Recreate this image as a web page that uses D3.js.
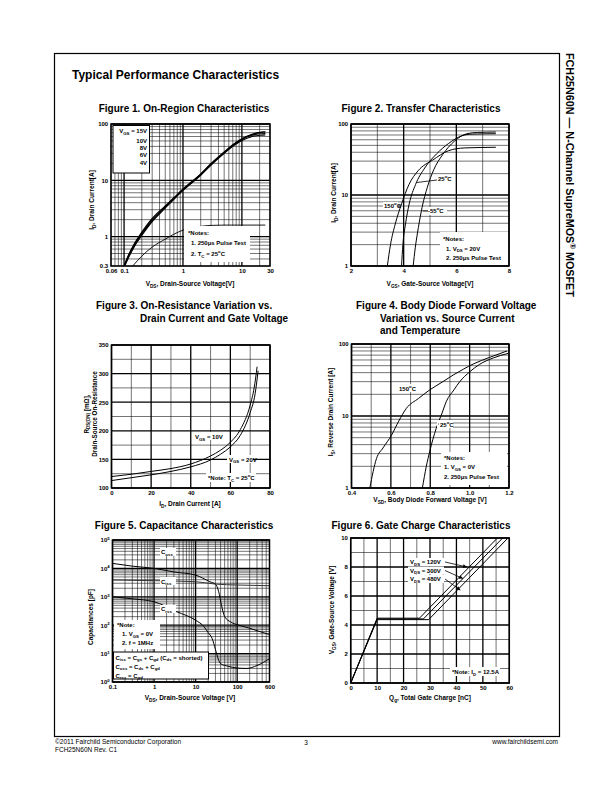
<!DOCTYPE html>
<html><head><meta charset="utf-8">
<script src="https://cdn.jsdelivr.net/npm/d3@7"></script>
<style>body{margin:0;background:#fff}svg{display:block}</style>
</head><body><svg id="c" width="612" height="792"></svg>
<script>
// ---------------- DATA ----------------
// Figure 1: On-Region Characteristics
const fig1Vds = [0.1,0.12,0.15,0.2,0.3,0.5,0.7,1,2,3,5,7,10,15,20,25];
const fig1Id15V = [0.3,0.48,0.75,1.2,2.1,3.5,4.9,7.0,13,20,32,43,55,66,71,73];
const fig1Id10V = [0.3,0.47,0.73,1.15,2.0,3.4,4.8,6.8,12.8,19.5,31,42,54,65,70,72];
const fig1Id8V  = [0.29,0.45,0.7,1.1,1.9,3.3,4.7,6.7,12.5,19,30.5,41,53,63,67,68];
const fig1Id6V  = [0.28,0.43,0.67,1.05,1.85,3.2,4.6,6.6,12.3,18.7,30,40,51,60,63,64];
const fig1Vds4V = [0.14,0.2,0.3,0.5,0.7,1,1.5,2,3,5,10,25];
const fig1Id4V  = [0.3,0.45,0.65,0.9,1.1,1.3,1.45,1.52,1.58,1.6,1.6,1.6];
const fig1XTicks = [0.06,0.1,1,10,30];
const fig1XLabels = ["0.06","0.1","1","10","30"];
const fig1YTicks = [0.3,1,10,100];
const fig1YLabels = ["0.3","1","10","100"];
const fig1Legend = ["V_{GS} = 15V","10V","8V","6V","4V"];
const fig1Notes = ["*Notes:","1. 250\u03bcs Pulse Test","2. T_{C} = 25^{o}C"];

// Figure 2: Transfer Characteristics
const fig2Vgs150 = [3.38,3.5,3.68,3.92,4.2,4.55,5.1,5.7,6.3,7.5];
const fig2Id150  = [1,2,3.9,7.5,14,22,31,42,46,47];
const fig2Vgs25  = [3.92,3.97,4.07,4.21,4.45,4.8,5.25,5.7,6.2,6.6,7.5];
const fig2Id25   = [1,2,3.9,7.5,14,24,38,53,68,72,73];
const fig2VgsM55 = [4.36,4.44,4.56,4.7,4.9,5.14,5.48,5.92,6.4,6.8,7.5];
const fig2IdM55  = [1,1.8,3.5,6.7,12.9,22.6,37,57,73,76,77];
const fig2XTicks = [2,4,6,8];
const fig2XLabels = ["2","4","6","8"];
const fig2YTicks = [1,10,100];
const fig2YLabels = ["1","10","100"];
const fig2Notes = ["*Notes:","1. V_{DS} = 20V","2. 250\u03bcs Pulse Test"];

// Figure 3: On-Resistance vs Drain Current
const fig3Id = [0,10,20,30,40,50,55,60,65,70,72,73.5];
const fig3R10V = [120,124,129,134,142,156,166,180,202,245,275,312];
const fig3Id20 = [0,10,20,30,40,50,55,60,65,70,72.5,74];
const fig3R20V = [113,118,123,129,137,149,159,172,192,232,265,305];
const fig3XTicks = [0,20,40,60,80];
const fig3YTicks = [100,150,200,250,300,350];

// Figure 4: Body Diode Forward Voltage
const fig4Vsd150 = [0.493,0.527,0.56,0.603,0.64,0.679,0.74,0.797,0.86,0.916,0.97,1.02,1.1,1.19];
const fig4Is150  = [1,2.57,3.6,5.4,8.5,12.8,17.5,23,29.5,37,45,53,65,80];
const fig4Vsd25  = [0.76,0.78,0.797,0.83,0.86,0.882,0.92,0.95,1.0,1.05,1.12,1.195];
const fig4Is25   = [1,2,3.2,6.7,11,16,23,30,41,52,64,74];
const fig4XTicks = [0.4,0.6,0.8,1.0,1.2];
const fig4XLabels = ["0.4","0.6","0.8","1.0","1.2"];
const fig4YTicks = [1,10,100];
const fig4YLabels = ["1","10","100"];
const fig4Notes = ["*Notes:","1. V_{GS} = 0V","2. 250\u03bcs Pulse Test"];

// Figure 5: Capacitance Characteristics
const fig5VdsCoss = [0.1,0.3,1,3,10,22,30,36,42,50,70,110,200,400,600];
const fig5Coss    = [15000,12000,10000,7500,5800,3400,2800,1500,500,200,130,100,78,56,47];
const fig5VdsCiss = [0.1,1,10,30,100,600];
const fig5Ciss    = [3900,3700,3400,2800,2600,2450];
const fig5VdsCrss = [0.1,0.3,1,3.5,10,16,20,25,30,35,40,60,100,170,300,600];
const fig5Crss    = [1000,850,670,300,150,88,55,34,14,6.5,4.4,3.6,3.1,3.0,3.8,6.6];
const fig5XTicks = [0.1,1,10,100,600];
const fig5XLabels = ["0.1","1","10","100","600"];
const fig5YTicks = [1,10,100,1000,10000,100000];
const fig5YLabels = ["10^{0}","10^{1}","10^{2}","10^{3}","10^{4}","10^{5}"];
const fig5Notes = ["*Note:","1. V_{GS} = 0V","2. f = 1MHz"];
const fig5Formulas = ["C_{iss} = C_{gs} + C_{gd} (C_{ds} = shorted)","C_{oss} = C_{ds} + C_{gd}","C_{rss} = C_{gd}"];

// Figure 6: Gate Charge Characteristics
const fig6Qg120 = [0,10,26,55.5];
const fig6Vgs120 = [0,4.47,4.47,10];
const fig6Qg300 = [0,10,27.5,57.5];
const fig6Vgs300 = [0,4.42,4.42,10];
const fig6Qg480 = [0,10,29.5,59.5];
const fig6Vgs480 = [0,4.37,4.37,10];
const fig6XTicks = [0,10,20,30,40,50,60];
const fig6YTicks = [0,2,4,6,8,10];

// ---------------- DRAWING ----------------
const FONT = '"Liberation Sans", Arial, Helvetica, sans-serif';
const TICK_FS = 6;
const svg = d3.select('#c').attr('font-family', FONT);

function rich(t, s, fs) {
  let cur = 0;
  s.split(/([_^]\{[^}]*\})/).filter(p => p !== '').forEach(p => {
    const m = p.match(/^([_^])\{(.*)\}$/);
    let target = 0, txt = p, size = fs;
    if (m) { target = m[1] === '_' ? fs * 0.3 : -fs * 0.42; txt = m[2]; size = fs * 0.72; }
    const ts = t.append('tspan').attr('font-size', size).text(txt);
    if (target !== cur) { ts.attr('dy', target - cur); cur = target; }
  });
}
function txt(g, x, y, s, o = {}) {
  const fs = o.fs || 6.5;
  const t = g.append('text').attr('x', x).attr('y', y).attr('font-size', fs)
    .attr('font-weight', o.w || 'bold').attr('text-anchor', o.a || 'start').attr('fill', '#000');
  if (o.rot) t.attr('transform', `rotate(${o.rot},${x},${y})`);
  rich(t, s, fs);
  return t;
}
function logGrid(dom) {
  const out = [];
  const lo = Math.floor(Math.log10(dom[0])), hi = Math.ceil(Math.log10(dom[1]));
  for (let k = lo; k <= hi; k++) for (let m = 1; m <= 9; m++) {
    const v = m * Math.pow(10, k);
    if (v >= dom[0] * 0.999 && v <= dom[1] * 1.001) out.push({ v, major: m === 1 });
  }
  return out;
}
function linGrid(dom, step, major) {
  const out = [];
  const n = Math.round((dom[1] - dom[0]) / step);
  for (let i = 0; i <= n; i++) {
    const v = dom[0] + i * step;
    const r = v / major;
    out.push({ v, major: Math.abs(r - Math.round(r)) < 1e-6 });
  }
  return out;
}
let clipN = 0;
function panel(p) {
  const x = (p.xLog ? d3.scaleLog() : d3.scaleLinear()).domain(p.xDom).range([p.x0, p.x1]);
  const y = (p.yLog ? d3.scaleLog() : d3.scaleLinear()).domain(p.yDom).range([p.y1, p.y0]);
  const g = svg.append('g');
  g.append('rect').attr('x', p.x0).attr('y', p.y0).attr('width', p.x1 - p.x0).attr('height', p.y1 - p.y0).attr('fill', '#fff');
  const xg = p.xLog ? logGrid(p.xDom) : linGrid(p.xDom, p.xStep, p.xMajor);
  const yg = p.yLog ? logGrid(p.yDom) : linGrid(p.yDom, p.yStep, p.yMajor);
  const grid = g.append('g');
  [false, true].forEach(maj => {
    grid.selectAll(null).data(xg.filter(d => d.major === maj)).join('line')
      .attr('x1', d => x(d.v)).attr('x2', d => x(d.v)).attr('y1', p.y0).attr('y2', p.y1)
      .attr('stroke', '#000').attr('stroke-width', maj ? 1.3 : 0.55);
    grid.selectAll(null).data(yg.filter(d => d.major === maj)).join('line')
      .attr('y1', d => y(d.v)).attr('y2', d => y(d.v)).attr('x1', p.x0).attr('x2', p.x1)
      .attr('stroke', '#000').attr('stroke-width', maj ? 1.3 : 0.55);
  });
  const id = 'clip' + (clipN++);
  g.append('clipPath').attr('id', id).append('rect').attr('x', p.x0).attr('y', p.y0).attr('width', p.x1 - p.x0).attr('height', p.y1 - p.y0);
  const plot = g.append('g').attr('clip-path', `url(#${id})`);
  const ann = g.append('g');
  g.append('rect').attr('x', p.x0).attr('y', p.y0).attr('width', p.x1 - p.x0).attr('height', p.y1 - p.y0)
    .attr('fill', 'none').attr('stroke', '#000').attr('stroke-width', 1.5);
  const ax = d3.axisBottom(x).tickValues(p.xTicks).tickFormat((d, i) => p.xLabels[i]).tickSize(0).tickPadding(2.8);
  const ay = d3.axisLeft(y).tickValues(p.yTicks).tickFormat((d, i) => p.yLabels[i]).tickSize(0).tickPadding(2.8);
  const gx = g.append('g').attr('transform', `translate(0,${p.y1})`).call(ax);
  const gy = g.append('g').attr('transform', `translate(${p.x0},0)`).call(ay);
  [gx, gy].forEach(a => {
    a.select('.domain').remove();
    a.attr('font-size', TICK_FS).attr('font-family', FONT).attr('font-weight', 'bold');
    a.selectAll('text').attr('fill', '#000');
  });
  if (p.yRich) gy.selectAll('text').each(function (d, i) { const t = d3.select(this); t.text(null); rich(t, p.yLabels[i], TICK_FS); });
  return { g, x, y, plot, ann };
}
function curve(P, xs, ys, o = {}) {
  const line = d3.line().x(d => P.x(d[0])).y(d => P.y(d[1])).curve(o.linear ? d3.curveLinear : d3.curveMonotoneX);
  P.plot.append('path').datum(d3.zip(xs, ys)).attr('d', line).attr('fill', 'none')
    .attr('stroke', o.color || '#000').attr('stroke-width', o.w || 1);
}
function whiteBox(g, x, y, w, h, stroke) {
  g.append('rect').attr('x', x).attr('y', y).attr('width', w).attr('height', h)
    .attr('fill', '#fff').attr('stroke', stroke ? '#000' : 'none').attr('stroke-width', 1);
}

// page frame and titles
svg.append('rect').attr('x', 54.5).attr('y', 53.5).attr('width', 505).attr('height', 683)
  .attr('fill', 'none').attr('stroke', '#000').attr('stroke-width', 1.2);
txt(svg, 72, 79, 'Typical Performance Characteristics', { fs: 12 });
const side = svg.append('g').attr('transform', 'translate(565.5,53) rotate(90)');
const sideT = txt(side, 0, 0, 'FCH25N60N \u2014 N-Channel SupreMOS^{\u00ae} MOSFET', { fs: 11 });
{ const L = sideT.node().getComputedTextLength(); const k = 244 / L; sideT.attr('font-size', 11 * k);
  sideT.selectAll('tspan').each(function(){ const s = +d3.select(this).attr('font-size'); d3.select(this).attr('font-size', s * k); }); }
txt(svg, 55, 743.5, '\u00a92011 Fairchild Semiconductor Corporation', { fs: 6.5, w: 'normal' });
txt(svg, 55, 752, 'FCH25N60N Rev. C1', { fs: 6.5, w: 'normal' });
txt(svg, 306, 745, '3', { fs: 6.5, w: 'normal', a: 'middle' });
txt(svg, 558, 743.5, 'www.fairchildsemi.com', { fs: 6.5, w: 'normal', a: 'end' });

// figure titles
txt(svg, 184, 112, 'Figure 1. On-Region Characteristics', { fs: 10, a: 'middle' });
txt(svg, 421, 112, 'Figure 2. Transfer Characteristics', { fs: 10, a: 'middle' });
txt(svg, 96, 309, 'Figure 3. On-Resistance Variation vs.', { fs: 10 });
txt(svg, 140, 321.5, 'Drain Current and Gate Voltage', { fs: 10 });
txt(svg, 356, 309, 'Figure 4. Body Diode Forward Voltage', { fs: 10 });
txt(svg, 380, 321.5, 'Variation vs. Source Current', { fs: 10 });
txt(svg, 380, 334, 'and Temperature', { fs: 10 });
txt(svg, 184, 529, 'Figure 5. Capacitance Characteristics', { fs: 10, a: 'middle' });
txt(svg, 421, 529, 'Figure 6. Gate Charge Characteristics', { fs: 10, a: 'middle' });

// ---- Figure 1
{
  const P = panel({ x0: 111, x1: 270, y0: 124, y1: 266, xLog: true, yLog: true, xDom: [0.06, 30], yDom: [0.3, 100],
    xTicks: fig1XTicks, xLabels: fig1XLabels, yTicks: fig1YTicks, yLabels: fig1YLabels });
  [fig1Id15V, fig1Id10V, fig1Id8V, fig1Id6V].forEach(ys => curve(P, fig1Vds, ys, { w: 1.1 }));
  curve(P, fig1Vds4V, fig1Id4V, { w: 0.9 });
  whiteBox(P.ann, 113, 125.5, 36.5, 47.5, true);
  fig1Legend.forEach((s, i) => txt(P.ann, 147, (i ? 142.5 : 133) + (i ? (i - 1) * 7.4 : 0), s, { fs: 6, a: 'end' }));
  whiteBox(P.ann, 184, 226, 66, 36);
  txt(P.ann, 188, 235, fig1Notes[0], { fs: 6 });
  txt(P.ann, 191, 244.5, fig1Notes[1], { fs: 6 });
  txt(P.ann, 191, 256, fig1Notes[2], { fs: 6 });
  txt(svg, 94, 200, 'I_{D}, Drain Current[A]', { rot: -90, a: 'middle' });
  txt(svg, 190, 286, 'V_{DS}, Drain-Source Voltage[V]', { a: 'middle' });
}
// ---- Figure 2
{
  const P = panel({ x0: 351, x1: 509, y0: 124, y1: 266, yLog: true, xDom: [2, 8], yDom: [1, 100], xStep: 1, xMajor: 2,
    xTicks: fig2XTicks, xLabels: fig2XLabels, yTicks: fig2YTicks, yLabels: fig2YLabels });
  curve(P, fig2Vgs150, fig2Id150);
  curve(P, fig2Vgs25, fig2Id25);
  curve(P, fig2VgsM55, fig2IdM55);
  const A = P.ann;
  whiteBox(A, 383, 202, 15, 8);
  txt(A, 384, 208, '150^{o}C', { fs: 6 });
  A.append('line').attr('x1', 398).attr('x2', P.x(3.88)).attr('y1', 206).attr('y2', 206).attr('stroke', '#000').attr('stroke-width', 0.8);
  whiteBox(A, 437, 175, 16, 8);
  txt(A, 438, 181, '25^{o}C', { fs: 6 });
  A.append('line').attr('x1', 437).attr('y1', 180).attr('x2', P.x(4.5)).attr('y2', P.y(15)).attr('stroke', '#000').attr('stroke-width', 0.8);
  whiteBox(A, 428, 207, 19, 8);
  txt(A, 428, 213, '-55^{o}C', { fs: 6 });
  A.append('line').attr('x1', P.x(4.72)).attr('x2', 428).attr('y1', 211).attr('y2', 211).attr('stroke', '#000').attr('stroke-width', 0.8);
  whiteBox(A, 440, 232, 68, 33);
  txt(A, 443, 241, fig2Notes[0], { fs: 6 });
  txt(A, 446, 250.5, fig2Notes[1], { fs: 6 });
  txt(A, 446, 260, fig2Notes[2], { fs: 6 });
  txt(svg, 336, 193, 'I_{D}, Drain Current[A]', { rot: -90, a: 'middle' });
  txt(svg, 430, 286, 'V_{GS}, Gate-Source Voltage[V]', { a: 'middle' });
}
// ---- Figure 3
{
  const P = panel({ x0: 111.5, x1: 270, y0: 345, y1: 488, xDom: [0, 80], yDom: [100, 350], xStep: 10, xMajor: 20, yStep: 25, yMajor: 50,
    xTicks: fig3XTicks, xLabels: fig3XTicks.map(String), yTicks: fig3YTicks, yLabels: fig3YTicks.map(String) });
  curve(P, fig3Id, fig3R10V);
  curve(P, fig3Id20, fig3R20V);
  const A = P.ann;
  whiteBox(A, 193, 432, 25, 8);
  txt(A, 195, 439, 'V_{GS} = 10V', { fs: 6 });
  whiteBox(A, 227, 455, 26, 8);
  txt(A, 229, 461.5, 'V_{GS} = 20V', { fs: 6 });
  whiteBox(A, 206, 473, 50, 9);
  txt(A, 208, 480, '*Note: T_{C} = 25^{o}C', { fs: 6 });
  txt(svg, 88.5, 414, 'R_{DS(ON)} [m\u03a9],', { rot: -90, a: 'middle', fs: 6.3 });
  txt(svg, 96.5, 414, 'Drain-Source On-Resistance', { rot: -90, a: 'middle', fs: 6.3 });
  txt(svg, 190, 506, 'I_{D}, Drain Current [A]', { a: 'middle' });
}
// ---- Figure 4
{
  const P = panel({ x0: 351.5, x1: 509, y0: 344, y1: 488, yLog: true, xDom: [0.4, 1.2], yDom: [1, 100], xStep: 0.1, xMajor: 0.2,
    xTicks: fig4XTicks, xLabels: fig4XLabels, yTicks: fig4YTicks, yLabels: fig4YLabels });
  curve(P, fig4Vsd150, fig4Is150);
  curve(P, fig4Vsd25, fig4Is25);
  const A = P.ann;
  whiteBox(A, 398, 384, 19, 8);
  txt(A, 399, 390.5, '150^{o}C', { fs: 6 });
  whiteBox(A, 437, 420, 16, 8);
  txt(A, 440, 427, '25^{o}C', { fs: 6 });
  A.append('line').attr('x1', P.x(0.84)).attr('x2', 439).attr('y1', 424).attr('y2', 424).attr('stroke', '#000').attr('stroke-width', 0.8);
  whiteBox(A, 441, 452, 66, 33);
  txt(A, 444, 460, fig4Notes[0], { fs: 6 });
  txt(A, 444, 469, fig4Notes[1], { fs: 6 });
  txt(A, 444, 478.5, fig4Notes[2], { fs: 6 });
  txt(svg, 333, 412, 'I_{S}, Reverse Drain Current [A]', { rot: -90, a: 'middle' });
  txt(svg, 430, 502, 'V_{SD}, Body Diode Forward Voltage [V]', { a: 'middle' });
}
// ---- Figure 5
{
  const P = panel({ x0: 112.5, x1: 269.5, y0: 540, y1: 682, xLog: true, yLog: true, xDom: [0.1, 600], yDom: [1, 100000],
    xTicks: fig5XTicks, xLabels: fig5XLabels, yTicks: fig5YTicks, yLabels: fig5YLabels, yRich: true });
  curve(P, fig5VdsCoss, fig5Coss);
  curve(P, fig5VdsCiss, fig5Ciss, { color: '#333' });
  curve(P, fig5VdsCrss, fig5Crss);
  const A = P.ann;
  whiteBox(A, 160, 548, 16, 8);
  txt(A, 161, 554, 'C_{oss}', { fs: 6 });
  whiteBox(A, 160, 577, 16, 8);
  txt(A, 161, 583.5, 'C_{iss}', { fs: 6 });
  whiteBox(A, 160, 605, 16, 8);
  txt(A, 161, 611, 'C_{rss}', { fs: 6 });
  whiteBox(A, 114, 620, 46, 29);
  txt(A, 117, 627, fig5Notes[0], { fs: 6 });
  txt(A, 122, 636, fig5Notes[1], { fs: 6 });
  txt(A, 122, 645, fig5Notes[2], { fs: 6 });
  whiteBox(A, 113.5, 652, 95, 27, true);
  fig5Formulas.forEach((s, i) => txt(A, 115.5, 659.5 + i * 9, s, { fs: 6 }));
  txt(svg, 93, 617, 'Capacitances [pF]', { rot: -90, a: 'middle' });
  txt(svg, 190, 700, 'V_{DS}, Drain-Source Voltage [V]', { a: 'middle' });
}
// ---- Figure 6
{
  const P = panel({ x0: 350.7, x1: 509.3, y0: 538, y1: 683, xDom: [0, 60], yDom: [0, 10], xStep: 5, xMajor: 10, yStep: 1, yMajor: 2,
    xTicks: fig6XTicks, xLabels: fig6XTicks.map(String), yTicks: fig6YTicks, yLabels: fig6YTicks.map(String) });
  curve(P, fig6Qg120, fig6Vgs120, { linear: true });
  curve(P, fig6Qg300, fig6Vgs300, { linear: true });
  curve(P, fig6Qg480, fig6Vgs480, { linear: true });
  const A = P.ann;
  svg.append('defs').append('marker').attr('id', 'arr').attr('viewBox', '0 0 6 6').attr('refX', 6).attr('refY', 3)
    .attr('markerWidth', 5).attr('markerHeight', 5).attr('orient', 'auto')
    .append('path').attr('d', 'M0,0L6,3L0,6z').attr('fill', '#000');
  const labs = [['V_{DS} = 120V', 564, 44, 8.0], ['V_{DS} = 300V', 572.5, 42.5, 7.2], ['V_{DS} = 480V', 581, 41.5, 6.4]];
  labs.forEach(([s, yy, qx, vy]) => {
    whiteBox(A, 408, yy - 6, 36, 8);
    txt(A, 410, yy, s, { fs: 6 });
    A.append('line').attr('x1', 445).attr('y1', yy - 2).attr('x2', P.x(qx)).attr('y2', P.y(vy))
      .attr('stroke', '#000').attr('stroke-width', 0.8).attr('marker-end', 'url(#arr)');
  });
  whiteBox(A, 450, 667, 50, 9);
  txt(A, 452, 674, '*Note: I_{D} = 12.5A', { fs: 6 });
  txt(svg, 334, 610, 'V_{GS}, Gate-Source Voltage [V]', { rot: -90, a: 'middle' });
  txt(svg, 430, 700, 'Q_{g}, Total Gate Charge [nC]', { a: 'middle' });
}
</script></body></html>
